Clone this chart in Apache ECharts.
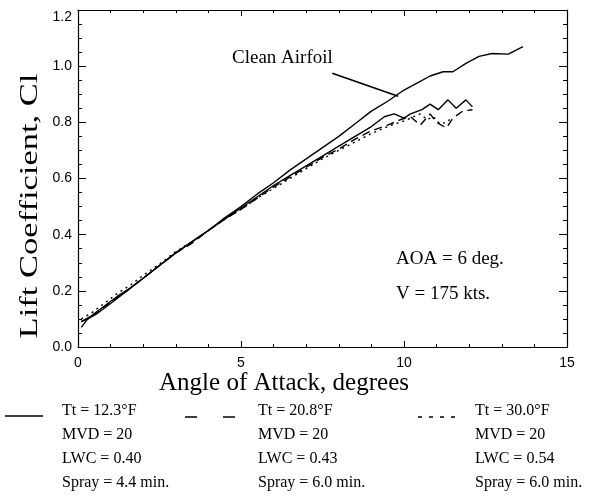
<!DOCTYPE html>
<html><head><meta charset="utf-8">
<script src="https://cdn.jsdelivr.net/npm/echarts@6/dist/echarts.min.js"></script>
<style>html,body{margin:0;padding:0;background:#fff}#c{width:613px;height:496px}</style>
</head><body><div id="c"></div>
<script>
// ---- data ----
const cleanAoa = [0.1,0.4,0.8,1.2,1.6,2.0,2.5,3.0,3.5,4.0,4.5,5.0,5.5,6.0,6.5,7.0,7.5,8.0,8.5,9.0,9.5,10.0,10.4,10.8,11.2,11.5,11.9,12.3,12.7,13.2,13.65];
const cleanCl  = [0.09,0.11,0.145,0.18,0.21,0.245,0.29,0.335,0.375,0.415,0.46,0.5,0.545,0.585,0.63,0.67,0.71,0.75,0.795,0.84,0.875,0.915,0.94,0.965,0.98,0.98,1.01,1.035,1.045,1.043,1.07];
const t123Aoa = [0.1,0.3,0.6,1.0,1.5,2.0,2.5,3.0,3.5,4.0,4.5,5.0,5.5,6.0,6.5,7.0,7.5,8.0,8.5,9.0,9.4,9.7,10.0,10.2,10.55,10.8,11.05,11.35,11.6,11.9,12.1];
const t123Cl  = [0.07,0.1,0.12,0.155,0.2,0.245,0.29,0.335,0.375,0.415,0.455,0.495,0.535,0.575,0.61,0.645,0.68,0.715,0.75,0.785,0.82,0.83,0.815,0.83,0.845,0.865,0.845,0.88,0.85,0.88,0.855];
const t208Aoa = [0.1,0.3,0.6,1.0,1.5,2.0,2.5,3.0,3.5,4.0,4.5,5.0,5.5,6.0,6.5,7.0,7.5,8.0,8.5,9.0,9.5,9.9,10.2,10.5,10.8,11.0,11.3,11.5,11.8,12.1];
const t208Cl  = [0.09,0.1,0.125,0.16,0.2,0.245,0.29,0.335,0.37,0.415,0.455,0.49,0.53,0.57,0.605,0.64,0.675,0.705,0.74,0.77,0.79,0.81,0.82,0.79,0.83,0.8,0.78,0.815,0.84,0.845];
const t300Aoa = [0.1,0.4,0.8,1.2,1.6,2.0,2.5,3.0,3.5,4.0,4.5,5.0,5.5,6.0,6.5,7.0,7.5,8.0,8.5,9.0,9.5,10.0,10.3,10.5,10.7,10.9,11.1,11.3,11.5];
const t300Cl  = [0.1,0.12,0.155,0.19,0.22,0.255,0.295,0.34,0.375,0.415,0.455,0.49,0.53,0.565,0.6,0.635,0.67,0.7,0.73,0.76,0.785,0.805,0.82,0.83,0.81,0.82,0.795,0.8,0.82];
const xTicks = [0,5,10,15];
const yTicks = [0.0,0.2,0.4,0.6,0.8,1.0,1.2];
const legendCols = [
  ['Tt = 12.3°F','MVD = 20','LWC = 0.40','Spray = 4.4 min.'],
  ['Tt = 20.8°F','MVD = 20','LWC = 0.43','Spray = 6.0 min.'],
  ['Tt = 30.0°F','MVD = 20','LWC = 0.54','Spray = 6.0 min.']
];
const arrowFrom = [7.8, 0.975];
const arrowTo = [9.82, 0.893];

const zip = (a,b) => a.map((v,i)=>[v,b[i]]);
const serif = 'Liberation Serif';
const sans = 'Liberation Sans';

const chart = echarts.init(document.getElementById('c'), null, {renderer:'canvas'});
const axLine = {show:true, onZero:false, lineStyle:{color:'#000', width:1.2}};
function xAx(pos, labels){
  return {type:'value', position:pos, min:xTicks[0], max:xTicks[xTicks.length-1], interval:5,
    axisLine:axLine, splitLine:{show:false},
    axisTick:{show:true, inside:true, length:6, lineStyle:{color:'#000'}},
    minorTick:{show:true, splitNumber:5, length:3, lineStyle:{color:'#000'}},
    axisLabel:{show:labels, color:'#000', fontFamily:sans, fontSize:14, margin:9}};
}
function yAx(pos, labels){
  return {type:'value', position:pos, min:yTicks[0], max:yTicks[yTicks.length-1], interval:0.2,
    axisLine:axLine, splitLine:{show:false},
    axisTick:{show:true, inside:true, length:8, lineStyle:{color:'#000'}},
    minorTick:{show:true, splitNumber:4, length:4, lineStyle:{color:'#000'}},
    axisLabel:{show:labels, color:'#000', fontFamily:sans, fontSize:14, margin:6,
      formatter:v => Math.abs(v-1.2)<1e-6 ? '{t|'+v.toFixed(1)+'}' : v.toFixed(1),
      rich:{t:{padding:[14,0,0,0], fontFamily:sans, fontSize:14, color:'#000'}}}};
}
const line = (name, data, type) => ({name, type:'line', data, showSymbol:false, symbol:'none',
  xAxisIndex:0, yAxisIndex:0, animation:false,
  lineStyle:{color:'#000', width:1.4, type}});

const lgX = [62, 258, 475];
const lgY = [412, 436, 460, 484];
const graphics = [];
legendCols.forEach((col,ci)=>col.forEach((t,ri)=>graphics.push({type:'text', left:lgX[ci], top:lgY[ri]-9,
  style:{text:t, font:'16px "'+serif+'"', fill:'#000'}})));
// legend samples
graphics.push({type:'line', shape:{x1:5,y1:416,x2:43,y2:416}, style:{stroke:'#000', lineWidth:1.6}});
graphics.push({type:'line', shape:{x1:185,y1:417,x2:235,y2:417}, style:{stroke:'#000', lineWidth:1.6, lineDash:[12,26]}});
graphics.push({type:'line', shape:{x1:418,y1:417,x2:456,y2:417}, style:{stroke:'#000', lineWidth:1.4, lineDash:[4,7]}});
// annotations
graphics.push({type:'text', left:232, top:49, style:{text:'Clean Airfoil', font:'19px "'+serif+'"', fill:'#000'}});
graphics.push({type:'text', left:396, top:250, style:{text:'AOA = 6 deg.', font:'19px "'+serif+'"', fill:'#000'}});
graphics.push({type:'text', left:396, top:285, style:{text:'V = 175 kts.', font:'19px "'+serif+'"', fill:'#000'}});
// axis titles
graphics.push({type:'text', x:284, y:383, style:{text:'Angle of Attack, degrees', font:'25px "'+serif+'"', fill:'#000', align:'center', verticalAlign:'middle'}});
graphics.push({type:'text', x:30, y:206, rotation:Math.PI/2, scaleX:1.38, style:{text:'Lift Coefficient, Cl', font:'25px "'+serif+'"', fill:'#000', align:'center', verticalAlign:'middle'}});

const cleanSeries = line('Clean Airfoil', zip(cleanAoa, cleanCl), 'solid');
cleanSeries.markLine = {silent:true, symbol:['none','none'], animation:false, label:{show:false},
  lineStyle:{color:'#000', width:1.6, type:'solid'},
  data:[[{coord:arrowFrom},{coord:arrowTo}]]};

chart.setOption({
  backgroundColor:'#fff',
  animation:false,
  grid:{left:78, right:46, top:10, bottom:149},
  xAxis:[xAx('bottom', true), xAx('top', false)],
  yAxis:[yAx('left', true), yAx('right', false)],
  series:[
    cleanSeries,
    line('Tt = 12.3°F', zip(t123Aoa, t123Cl), 'solid'),
    line('Tt = 20.8°F', zip(t208Aoa, t208Cl), [8,5]),
    line('Tt = 30.0°F', zip(t300Aoa, t300Cl), [2,4])
  ],
  graphic:graphics
});
</script></body></html>
